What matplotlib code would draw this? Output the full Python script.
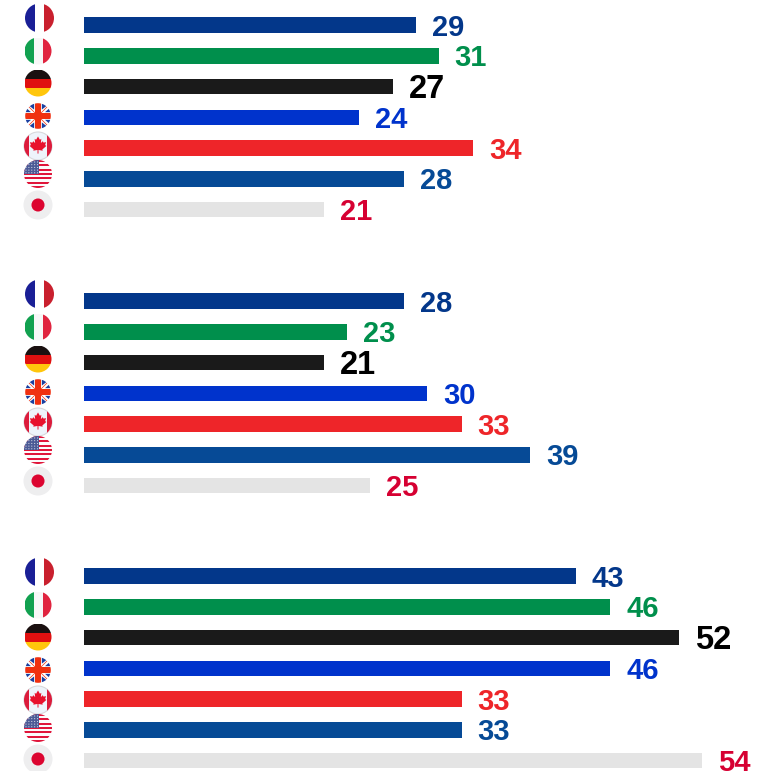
import numpy as np
import matplotlib
matplotlib.use('Agg')
import matplotlib.pyplot as plt
from matplotlib.patches import Circle, Rectangle, Polygon

countries = ['France', 'Italy', 'Germany', 'UK', 'Canada', 'USA', 'Japan']
values_top = [29, 31, 27, 24, 34, 28, 21]
values_middle = [28, 23, 21, 30, 33, 39, 25]
values_bottom = [43, 46, 52, 46, 33, 33, 54]

bar_colors = ['#03378a', '#008f4c', '#1a1a1a', '#0033cc', '#ee2529', '#064a96', '#e4e4e4']
label_colors = ['#03378a', '#008f4c', '#000000', '#0033cc', '#ee2529', '#064a96', '#d60032']

W, H = 774, 771
px_per_unit = 11.44
x0 = 84
group_tops = [25, 301, 576]
bar_step = 30.75
bar_h = 15.5
# flags are not evenly spaced
flag_offsets = [-7, 26, 58, 91, 121, 149, 180]
group_flag_shift = [0, 0, 3]
flag_radius = [14.5, 13.5, 13.5, 12.8, 14, 14, 14.5]
flag_x = [39.5, 38, 38, 38, 38, 38, 38]

plt.rcParams['font.family'] = ['Liberation Sans', 'DejaVu Sans']
fig = plt.figure(figsize=(W/100, H/100), dpi=100)
ax = fig.add_axes([0, 0, 1, 1])
ax.set_xlim(-x0/px_per_unit, (W-x0)/px_per_unit)
ax.set_ylim(H, 0)
ax.axis('off')


def striped(ax, clip, x, y, r, cols, vertical=True):
    n = len(cols)
    for i, c in enumerate(cols):
        if vertical:
            rect = Rectangle((x-r+2*r*i/n, y-r), 2*r/n, 2*r, color=c, lw=0)
        else:
            rect = Rectangle((x-r, y-r+2*r*i/n), 2*r, 2*r/n, color=c, lw=0)
        ax.add_patch(rect)
        rect.set_clip_path(clip)


def draw_flag(ax, name, x, y, r):
    clip = Circle((x, y), r, transform=ax.transData)
    if name == 'France':
        striped(ax, clip, x, y, r, ['#1a1f96', '#ffffff', '#c9202e'])
    elif name == 'Italy':
        striped(ax, clip, x, y, r, ['#12a150', '#f7f7f7', '#e0243f'])
    elif name == 'Germany':
        striped(ax, clip, x, y, r, ['#1a1010', '#e01010', '#ffc60c'], vertical=False)
    elif name == 'UK':
        ax.add_patch(Circle((x, y), r, color='#ffffff', lw=0))
        for sx in [-1, 1]:
            for sy in [-1, 1]:
                tri = Polygon([(x+sx*r*0.3, y+sy*r), (x+sx*r*0.3, y+sy*r*0.5), (x+sx*r*0.75, y+sy*r*0.85)],
                              color='#1a3fa0', lw=0)
                ax.add_patch(tri)
                tri.set_clip_path(clip)
                tri = Polygon([(x+sx*r, y+sy*r*0.3), (x+sx*r*0.55, y+sy*r*0.3), (x+sx*r, y+sy*r*0.7)],
                              color='#1a3fa0', lw=0)
                ax.add_patch(tri)
                tri.set_clip_path(clip)
        ax.plot([x-r, x+r], [y-r, y+r], color='#f03010', lw=0.5, clip_path=clip)
        ax.plot([x-r, x+r], [y+r, y-r], color='#f03010', lw=0.5, clip_path=clip)
        for rect in [Rectangle((x-r*0.2, y-r), r*0.4, 2*r, color='#f03010', lw=0),
                     Rectangle((x-r, y-r*0.2), 2*r, r*0.4, color='#f03010', lw=0)]:
            ax.add_patch(rect)
            rect.set_clip_path(clip)
    elif name == 'Canada':
        ax.add_patch(Circle((x, y), r, color='#eef4fb', ec='#d8d8dc', lw=0.8))
        for rect in [Rectangle((x-r, y-r), r*0.38, 2*r, color='#dc1c3c', lw=0),
                     Rectangle((x+r*0.66, y-r), r*0.34, 2*r, color='#dc1c3c', lw=0)]:
            ax.add_patch(rect)
            rect.set_clip_path(clip)
        leaf = [(0, -9), (2, -5.5), (3.5, -6.5), (3, -2), (5, -4), (5.8, -2.5), (8.5, -3), (7.5, 0),
                (8.8, 1), (4.5, 4.8), (5, 6), (0.5, 5.2), (0.5, 9), (-0.5, 9), (-0.5, 5.2), (-5, 6),
                (-4.5, 4.8), (-8.8, 1), (-7.5, 0), (-8.5, -3), (-5.8, -2.5), (-5, -4), (-3, -2),
                (-3.5, -6.5), (-2, -5.5)]
        s = r/14*0.95
        ax.add_patch(Polygon([(x+px*s, y-1+py*s) for px, py in leaf], color='#e8112d', lw=0))
    elif name == 'USA':
        cols = ['#e0153a', '#fbfbfb']*6 + ['#e0153a']
        striped(ax, clip, x, y, r, cols, vertical=False)
        rect = Rectangle((x-r, y-r), r*1.05, r*1.0, color='#4c5a96', lw=0)
        ax.add_patch(rect)
        rect.set_clip_path(clip)
        for i in range(5):
            for j in range(5):
                ax.add_patch(Circle((x-r+2+j*2.9, y-r+2+i*2.7), 0.5, color='#ffffff', lw=0))
    elif name == 'Japan':
        ax.add_patch(Circle((x, y), r, color='#eeeeef', lw=0))
        ax.add_patch(Circle((x, y), r*0.45, color='#dc0530', lw=0))


for top, vals in zip(group_tops, [values_top, values_middle, values_bottom]):
    ys = top + np.arange(len(vals))*bar_step
    ax.barh(ys, vals, height=bar_h, color=bar_colors, linewidth=0)
    for i, v in enumerate(vals):
        # Germany's number is set larger in the original
        size = 23.5 if countries[i] == 'Germany' else 21
        ax.annotate(str(v), (v, ys[i]), xytext=(11.5, 0.2), textcoords='offset points',
                    ha='left', va='center_baseline', color=label_colors[i],
                    fontsize=size, fontweight='bold')

flag_ax = fig.add_axes([0, 0, 1, 1])
flag_ax.set_xlim(0, W)
flag_ax.set_ylim(H, 0)
flag_ax.axis('off')
for top, shift in zip(group_tops, group_flag_shift):
    for name, off, r, fx in zip(countries, flag_offsets, flag_radius, flag_x):
        draw_flag(flag_ax, name, fx, top+off+shift, r)

fig.savefig('out.png', dpi=100)
